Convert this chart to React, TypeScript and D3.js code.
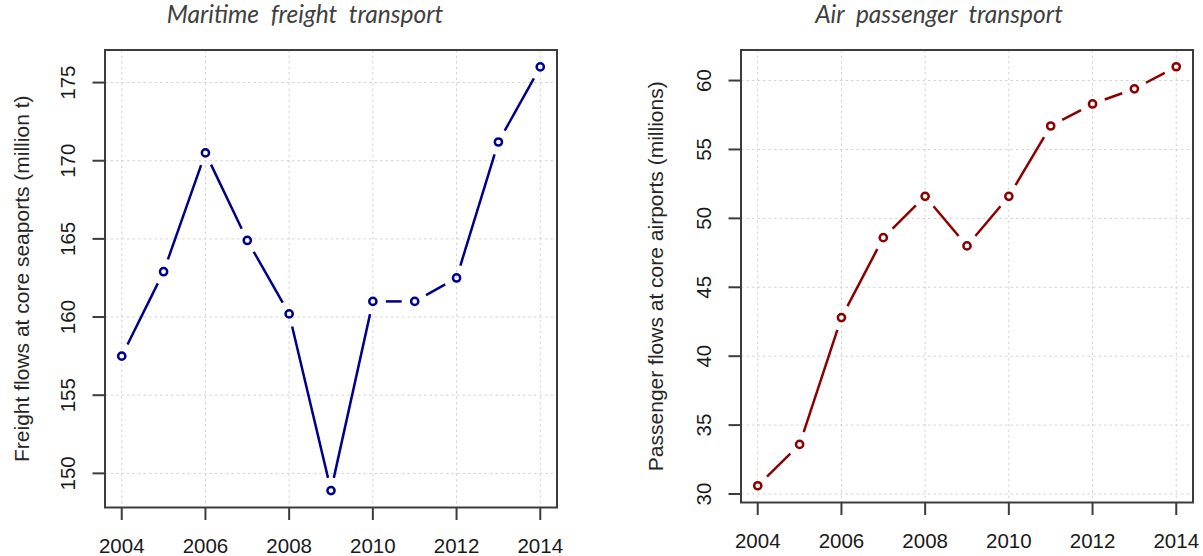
import React, { useRef, useEffect } from "react";
import * as d3 from "d3";

const years = [2004, 2005, 2006, 2007, 2008, 2009, 2010, 2011, 2012, 2013, 2014];
const freightFlows = [157.5, 162.9, 170.5, 164.9, 160.2, 148.9, 161.0, 161.0, 162.5, 171.2, 176.0];
const passengerFlows = [30.6, 33.6, 42.8, 48.6, 51.6, 48.0, 51.6, 56.7, 58.3, 59.4, 61.0];
const yearTicks = [2004, 2006, 2008, 2010, 2012, 2014];
const freightTicks = [150, 155, 160, 165, 170, 175];
const passengerTicks = [30, 35, 40, 45, 50, 55, 60];

const W = 1203;
const H = 556;

// R-style axis range: data extent padded by 4% each side
const padded = (vals: number[]): [number, number] => {
  const [lo, hi] = d3.extent(vals) as [number, number];
  const d = (hi - lo) * 0.04;
  return [lo - d, hi + d];
};

const panels = [
  {
    title: "Maritime freight transport",
    yLabel: "Freight flows at core seaports (million t)",
    values: freightFlows,
    yTicks: freightTicks,
    color: "#00008b",
    box: { left: 105, right: 557, top: 50, bottom: 507.5 },
    titleX: 305,
    yLabelX: 22,
  },
  {
    title: "Air passenger transport",
    yLabel: "Passenger flows at core airports (millions)",
    values: passengerFlows,
    yTicks: passengerTicks,
    color: "#8b0000",
    box: { left: 741, right: 1193, top: 50, bottom: 502.5 },
    titleX: 939,
    yLabelX: 656,
  },
];

const App = () => {
  const svgRef = useRef<SVGSVGElement>(null);

  useEffect(() => {
    const svg = d3.select(svgRef.current);
    svg.selectAll("*").remove();

    panels.forEach((p) => {
      const { left, right, top, bottom } = p.box;
      const g = svg.append("g");

      const x = d3.scaleLinear().domain(padded(years)).range([left, right]);
      const y = d3.scaleLinear().domain(padded(p.values)).range([bottom, top]);

      // grid
      g.selectAll(".vgrid")
        .data(yearTicks)
        .join("line")
        .attr("x1", (d) => x(d))
        .attr("x2", (d) => x(d))
        .attr("y1", top)
        .attr("y2", bottom)
        .attr("stroke", "#d3d3d3")
        .attr("stroke-width", 1)
        .attr("stroke-dasharray", "2.5,3");
      g.selectAll(".hgrid")
        .data(p.yTicks)
        .join("line")
        .attr("x1", left)
        .attr("x2", right)
        .attr("y1", (d) => y(d))
        .attr("y2", (d) => y(d))
        .attr("stroke", "#d3d3d3")
        .attr("stroke-width", 1)
        .attr("stroke-dasharray", "2.5,3");

      // line segments with gaps around points (type = "b")
      const pts = years.map((yr, i) => [x(yr), y(p.values[i])]);
      const gap = 13;
      const segs = d3.pairs(pts).filter(([a, b]) => Math.hypot(b[0] - a[0], b[1] - a[1]) > 2 * gap);
      g.selectAll(".seg")
        .data(segs)
        .join("line")
        .each(function ([a, b]) {
          const len = Math.hypot(b[0] - a[0], b[1] - a[1]);
          const ux = (b[0] - a[0]) / len;
          const uy = (b[1] - a[1]) / len;
          d3.select(this)
            .attr("x1", a[0] + ux * gap)
            .attr("y1", a[1] + uy * gap)
            .attr("x2", b[0] - ux * gap)
            .attr("y2", b[1] - uy * gap);
        })
        .attr("stroke", p.color)
        .attr("stroke-width", 2.5);

      g.selectAll(".pt")
        .data(pts)
        .join("circle")
        .attr("cx", (d) => d[0])
        .attr("cy", (d) => d[1])
        .attr("r", 3.6)
        .attr("fill", "none")
        .attr("stroke", p.color)
        .attr("stroke-width", 2.5);

      // box
      g.append("rect")
        .attr("x", left)
        .attr("y", top)
        .attr("width", right - left)
        .attr("height", bottom - top)
        .attr("fill", "none")
        .attr("stroke", "#3c3c3c")
        .attr("stroke-width", 2);

      // x axis ticks + labels
      g.selectAll(".xt")
        .data(yearTicks)
        .join("line")
        .attr("x1", (d) => x(d))
        .attr("x2", (d) => x(d))
        .attr("y1", bottom)
        .attr("y2", bottom + 12.5)
        .attr("stroke", "#3c3c3c")
        .attr("stroke-width", 2);
      g.selectAll(".xl")
        .data(yearTicks)
        .join("text")
        .attr("x", (d) => x(d))
        .attr("y", bottom + 45.5)
        .attr("text-anchor", "middle")
        .attr("font-family", "Liberation Sans, Arial, sans-serif")
        .attr("font-size", 20.5)
        .attr("fill", "#1a1a1a")
        .text((d) => d);

      // y axis ticks + labels
      g.selectAll(".yt")
        .data(p.yTicks)
        .join("line")
        .attr("x1", left - 12.5)
        .attr("x2", left)
        .attr("y1", (d) => y(d))
        .attr("y2", (d) => y(d))
        .attr("stroke", "#3c3c3c")
        .attr("stroke-width", 2);
      g.selectAll(".yl")
        .data(p.yTicks)
        .join("text")
        .attr("transform", (d) => `translate(${left - 30},${y(d)}) rotate(-90)`)
        .attr("text-anchor", "middle")
        .attr("font-family", "Liberation Sans, Arial, sans-serif")
        .attr("font-size", 20.5)
        .attr("fill", "#1a1a1a")
        .text((d) => d);

      // axis title
      g.append("text")
        .attr("transform", `translate(${p.yLabelX + 7},${(top + bottom) / 2}) rotate(-90)`)
        .attr("text-anchor", "middle")
        .attr("font-family", "Liberation Sans, Arial, sans-serif")
        .attr("font-size", 21)
        .attr("fill", "#262626")
        .text(p.yLabel);

      // panel title
      g.append("text")
        .attr("x", p.titleX)
        .attr("y", 23)
        .attr("text-anchor", "middle")
        .attr("font-family", "Lato, Open Sans, sans-serif")
        .attr("font-style", "italic")
        .attr("font-size", 24.5)
        .attr("word-spacing", 6)
        .attr("fill", "#404040")
        .text(p.title);
    });
  }, []);

  return (
    <svg
      ref={svgRef}
      width={W}
      height={H}
      style={{ position: "absolute", left: 0, top: 0, background: "#fff" }}
    />
  );
};

export default App;
